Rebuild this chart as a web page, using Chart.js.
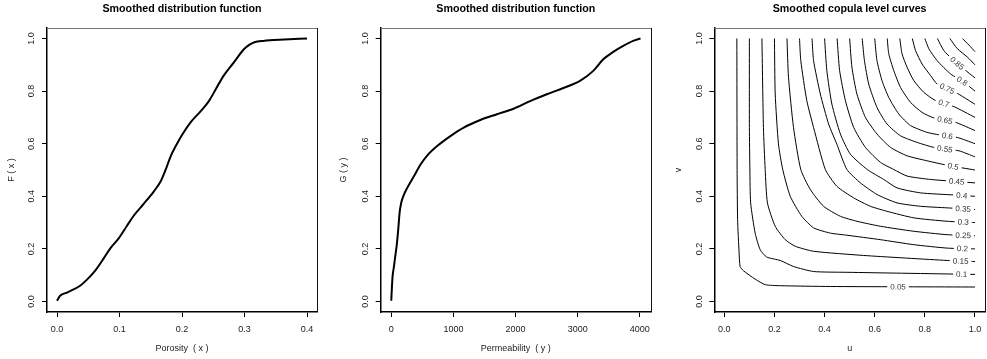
<!DOCTYPE html>
<html>
<head>
<meta charset="utf-8">
<script src="https://cdn.jsdelivr.net/npm/chart.js@4.4.1/dist/chart.umd.min.js"></script>
<style>
  html, body { margin: 0; padding: 0; background: #fff; }
  .panel { position: absolute; top: 0; width: 329px; height: 359px; }
</style>
</head>
<body>
<div class="panel" style="left:0px"><canvas id="graficoPorosidad" width="329" height="359"></canvas></div>
<div class="panel" style="left:329px"><canvas id="graficoPermeabilidad" width="329" height="359"></canvas></div>
<div class="panel" style="left:658px"><canvas id="graficoCopula" width="329" height="359"></canvas></div>
<script>
// Datos
const porosidadX = [0, 0.005, 0.016, 0.037, 0.048, 0.0615, 0.075, 0.0856, 0.099, 0.112, 0.123, 0.139, 0.155, 0.166, 0.174, 0.182, 0.190, 0.2005, 0.214, 0.230, 0.243, 0.254, 0.267, 0.283, 0.299, 0.3075, 0.316, 0.33, 0.364, 0.400];
const porosidadF = [0.003, 0.022, 0.034, 0.060, 0.083, 0.118, 0.165, 0.203, 0.241, 0.288, 0.327, 0.372, 0.419, 0.457, 0.502, 0.553, 0.591, 0.635, 0.682, 0.724, 0.762, 0.807, 0.860, 0.909, 0.959, 0.976, 0.986, 0.991, 0.996, 1.0];

const permeabilidadY = [0, 11, 21, 43, 64, 86, 112, 134, 160, 193, 257, 364, 471, 578, 738, 952, 1166, 1433, 1701, 1968, 2235, 2503, 2770, 3037, 3251, 3412, 3572, 3733, 3893, 4011];
const permeabilidadG = [0.003, 0.057, 0.095, 0.133, 0.172, 0.21, 0.273, 0.337, 0.375, 0.4, 0.432, 0.476, 0.521, 0.555, 0.591, 0.629, 0.661, 0.69, 0.712, 0.733, 0.762, 0.788, 0.812, 0.839, 0.877, 0.921, 0.949, 0.972, 0.991, 1.0];

// Curvas de nivel de la copula: pares [u, v]
const c005 = [[0.05,1],[0.051,0.502],[0.053,0.311],[0.059,0.184],[0.063,0.133],[0.076,0.117],[0.123,0.085],[0.163,0.064],[0.223,0.06],[0.423,0.057],[1,0.055]];
const c010 = [[0.1,1],[0.1,0.662],[0.102,0.5],[0.105,0.375],[0.123,0.26],[0.143,0.197],[0.169,0.169],[0.223,0.156],[0.276,0.133],[0.356,0.114],[0.489,0.111],[1,0.103]];
const c015 = [[0.15,1],[0.156,0.662],[0.163,0.502],[0.172,0.375],[0.203,0.286],[0.243,0.235],[0.283,0.21],[0.356,0.191],[0.556,0.175],[0.889,0.156],[1,0.152]];
const c020 = [[0.2,1],[0.203,0.789],[0.216,0.599],[0.233,0.502],[0.263,0.4],[0.309,0.324],[0.356,0.28],[0.423,0.26],[0.489,0.252],[0.623,0.235],[0.756,0.216],[0.889,0.203],[1,0.2]];
const c025 = [[0.25,1],[0.256,0.853],[0.276,0.662],[0.305,0.502],[0.343,0.426],[0.396,0.362],[0.463,0.324],[0.529,0.305],[0.623,0.286],[0.756,0.267],[0.889,0.254],[1,0.25]];
const c030 = [[0.3,1],[0.305,0.916],[0.329,0.764],[0.356,0.662],[0.403,0.502],[0.449,0.438],[0.516,0.394],[0.583,0.362],[0.649,0.343],[0.756,0.318],[0.889,0.305],[1,0.3]];
const c035 = [[0.35,1],[0.356,0.916],[0.383,0.789],[0.416,0.675],[0.449,0.598],[0.489,0.502],[0.543,0.451],[0.609,0.407],[0.689,0.375],[0.783,0.362],[0.889,0.356],[1,0.35]];
const c040 = [[0.4,1],[0.409,0.878],[0.429,0.751],[0.463,0.637],[0.503,0.56],[0.57,0.502],[0.636,0.464],[0.689,0.432],[0.783,0.413],[0.916,0.405],[1,0.4]];
const c045 = [[0.45,1],[0.46,0.878],[0.483,0.764],[0.516,0.662],[0.563,0.586],[0.623,0.529],[0.676,0.502],[0.729,0.477],[0.823,0.464],[1,0.451]];
const c050 = [[0.5,1],[0.509,0.891],[0.529,0.789],[0.563,0.7],[0.609,0.637],[0.663,0.586],[0.729,0.554],[0.809,0.535],[0.889,0.518],[1,0.5]];
const c055 = [[0.55,1],[0.559,0.916],[0.576,0.827],[0.609,0.738],[0.649,0.675],[0.703,0.63],[0.769,0.605],[0.836,0.586],[0.936,0.573],[1,0.55]];
const c060 = [[0.6,1],[0.609,0.916],[0.629,0.84],[0.656,0.776],[0.696,0.713],[0.743,0.669],[0.809,0.643],[0.856,0.634],[0.929,0.624],[1,0.6]];
const c065 = [[0.65,1],[0.656,0.942],[0.676,0.878],[0.703,0.814],[0.743,0.757],[0.789,0.719],[0.836,0.698],[0.923,0.681],[1,0.65]];
const c070 = [[0.7,1],[0.709,0.942],[0.729,0.891],[0.756,0.84],[0.796,0.795],[0.843,0.764],[0.916,0.741],[1,0.7]];
const c075 = [[0.75,1],[0.763,0.954],[0.789,0.903],[0.823,0.859],[0.849,0.827],[0.923,0.795],[1,0.75]];
const c080 = [[0.8,1],[0.816,0.961],[0.849,0.916],[0.903,0.865],[0.956,0.834],[1,0.8]];
const c085 = [[0.85,1],[0.876,0.954],[0.909,0.922],[0.956,0.884],[1,0.85]];
const c090 = [[0.9,1],[0.929,0.962],[0.969,0.93],[1,0.9]];
const c095 = [[0.95,1],[0.976,0.975],[1,0.95]];

const niveles = [0.05, 0.1, 0.15, 0.2, 0.25, 0.3, 0.35, 0.4, 0.45, 0.5, 0.55, 0.6, 0.65, 0.7, 0.75, 0.8, 0.85, 0.9, 0.95];
const curvas = [c005, c010, c015, c020, c025, c030, c035, c040, c045, c050, c055, c060, c065, c070, c075, c080, c085, c090, c095];
const posEtiqueta = [0.693, 0.947, 0.943, 0.95, 0.953, 0.953, 0.953, 0.947, 0.927, 0.913, 0.88, 0.89, 0.88, 0.876, 0.889, 0.949, 0.929, null, null]; // u de cada etiqueta

// Marcas de los ejes
const ticksPorosidad = [0, 0.1, 0.2, 0.3, 0.4];
const ticksPermeabilidad = [0, 1000, 2000, 3000, 4000];
const ticksU = [0, 0.2, 0.4, 0.6, 0.8, 1.0];
const ticksProb = [0, 0.2, 0.4, 0.6, 0.8, 1.0];

const FUENTE = '"Liberation Sans", Arial, Helvetica, sans-serif';
const fuenteEje = { family: FUENTE, size: 9, lineHeight: 1.2 };

// Marco superior y derecho del grafico
const marcoPlugin = {
  id: 'marco',
  afterDraw(chart) {
    const { ctx, chartArea: a } = chart;
    ctx.save();
    ctx.lineWidth = 1;
    ctx.strokeStyle = '#777';
    ctx.beginPath(); ctx.moveTo(a.left, a.top + 0.5); ctx.lineTo(a.right + 1, a.top + 0.5); ctx.stroke();
    ctx.strokeStyle = '#111';
    const xr = Math.round(a.right) + 0.5;
    ctx.beginPath(); ctx.moveTo(xr, a.top); ctx.lineTo(xr, a.bottom); ctx.stroke();
    ctx.restore();
  }
};

// Etiquetas de las curvas de nivel (con hueco blanco)
const etiquetasPlugin = {
  id: 'etiquetas',
  afterDatasetsDraw(chart) {
    const { ctx, scales: { x, y } } = chart;
    ctx.font = '8px ' + FUENTE;
    ctx.textAlign = 'center';
    ctx.textBaseline = 'middle';
    niveles.forEach((nivel, k) => {
      const uEt = posEtiqueta[k];
      if (uEt == null) return;
      const pts = curvas[k];
      let i = 0;
      while (i < pts.length - 2 && pts[i + 1][0] < uEt) i++;
      const [u0, v0] = pts[i];
      const [u1, v1] = pts[i + 1];
      const t = (uEt - u0) / (u1 - u0);
      const v = v0 + t * (v1 - v0);
      const px = x.getPixelForValue(uEt), py = y.getPixelForValue(v);
      const ang = Math.atan2(y.getPixelForValue(v1) - y.getPixelForValue(v0), x.getPixelForValue(u1) - x.getPixelForValue(u0));
      const txt = String(nivel);
      const w = ctx.measureText(txt).width;
      ctx.save();
      ctx.translate(px, py);
      ctx.rotate(ang);
      ctx.fillStyle = '#fff';
      ctx.fillRect(-w / 2 - 3, -3.5, w + 6, 7);
      ctx.fillStyle = '#333';
      ctx.fillText(txt, 0, 0.5);
      ctx.restore();
    });
  }
};

// Opciones comunes a los tres paneles
function opcionesPanel(cfg) {
  const rejilla = { drawOnChartArea: false, drawTicks: true, tickLength: 5, tickColor: '#000', lineWidth: 1 };
  const borde = { display: true, color: '#000', width: 1.5 };
  return {
    responsive: false,
    animation: false,
    layout: { padding: { left: 0, right: cfg.derecha, top: 0, bottom: 0 } },
    plugins: {
      legend: { display: false },
      tooltip: { enabled: false },
      title: {
        display: true,
        text: cfg.titulo,
        fullSize: false,
        color: '#000',
        font: { family: FUENTE, size: 10.7, weight: 'bold', lineHeight: 1 },
        padding: { top: 3.5, bottom: 13.8 }
      }
    },
    scales: {
      x: {
        type: 'linear',
        min: cfg.xMin,
        max: cfg.xMax,
        afterBuildTicks: s => { s.ticks = cfg.xTicks.map(v => ({ value: v })); },
        afterFit: s => { s.height = 47; s.paddingLeft = 0; s.paddingRight = 0; },
        ticks: { callback: cfg.xFormato, font: fuenteEje, color: '#222', padding: 7, maxRotation: 0, autoSkip: false },
        grid: rejilla,
        border: borde,
        title: { display: true, text: cfg.xTitulo, font: fuenteEje, color: '#222', padding: { top: 0, bottom: 5.3 } }
      },
      y: {
        type: 'linear',
        min: -0.04,
        max: 1.04,
        afterBuildTicks: s => { s.ticks = ticksProb.map(v => ({ value: v })); },
        afterFit: s => { s.width = cfg.izquierda; s.paddingTop = 0; s.paddingBottom = 0; },
        ticks: { callback: v => v.toFixed(1), font: fuenteEje, color: '#222', padding: 3.75, minRotation: 90, maxRotation: 90, crossAlign: 'center', autoSkip: false },
        grid: rejilla,
        border: borde,
        title: { display: true, text: cfg.yTitulo, font: fuenteEje, color: '#222', padding: { top: cfg.yTituloPad, bottom: 0 } }
      }
    }
  };
}

function serieLinea(xs, ys, ancho) {
  return {
    data: xs.map((v, i) => ({ x: v, y: ys[i] })),
    showLine: true,
    borderColor: '#000',
    borderWidth: ancho,
    pointRadius: 0,
    cubicInterpolationMode: 'monotone',
    fill: false
  };
}

// Panel 1: porosidad
new Chart(document.getElementById('graficoPorosidad'), {
  type: 'scatter',
  data: { datasets: [serieLinea(porosidadX, porosidadF, 2)] },
  options: opcionesPanel({
    titulo: 'Smoothed distribution function',
    xTitulo: 'Porosity  ( x )', yTitulo: 'F ( x )',
    xMin: -0.016, xMax: 0.416, xTicks: ticksPorosidad, xFormato: v => v.toFixed(1),
    izquierda: 47, derecha: 12, yTituloPad: 6.3
  }),
  plugins: [marcoPlugin]
});

// Panel 2: permeabilidad
new Chart(document.getElementById('graficoPermeabilidad'), {
  type: 'scatter',
  data: { datasets: [serieLinea(permeabilidadY, permeabilidadG, 2)] },
  options: opcionesPanel({
    titulo: 'Smoothed distribution function',
    xTitulo: 'Permeability  ( y )', yTitulo: 'G ( y )',
    xMin: -170, xMax: 4180, xTicks: ticksPermeabilidad, xFormato: v => String(v),
    izquierda: 51.7, derecha: 7, yTituloPad: 8.9
  }),
  plugins: [marcoPlugin]
});

// Panel 3: curvas de nivel de la copula
new Chart(document.getElementById('graficoCopula'), {
  type: 'scatter',
  data: {
    datasets: curvas.map(c => ({
      data: c.map(p => ({ x: p[0], y: p[1] })),
      showLine: true,
      borderColor: '#000',
      borderWidth: 1,
      pointRadius: 0,
      tension: 0.2,
      fill: false
    }))
  },
  options: opcionesPanel({
    titulo: 'Smoothed copula level curves',
    xTitulo: 'u', yTitulo: 'v',
    xMin: -0.04, xMax: 1.04, xTicks: ticksU, xFormato: v => v.toFixed(1),
    izquierda: 56.3, derecha: 2, yTituloPad: 14.9
  }),
  plugins: [marcoPlugin, etiquetasPlugin]
});
</script>
</body>
</html>
